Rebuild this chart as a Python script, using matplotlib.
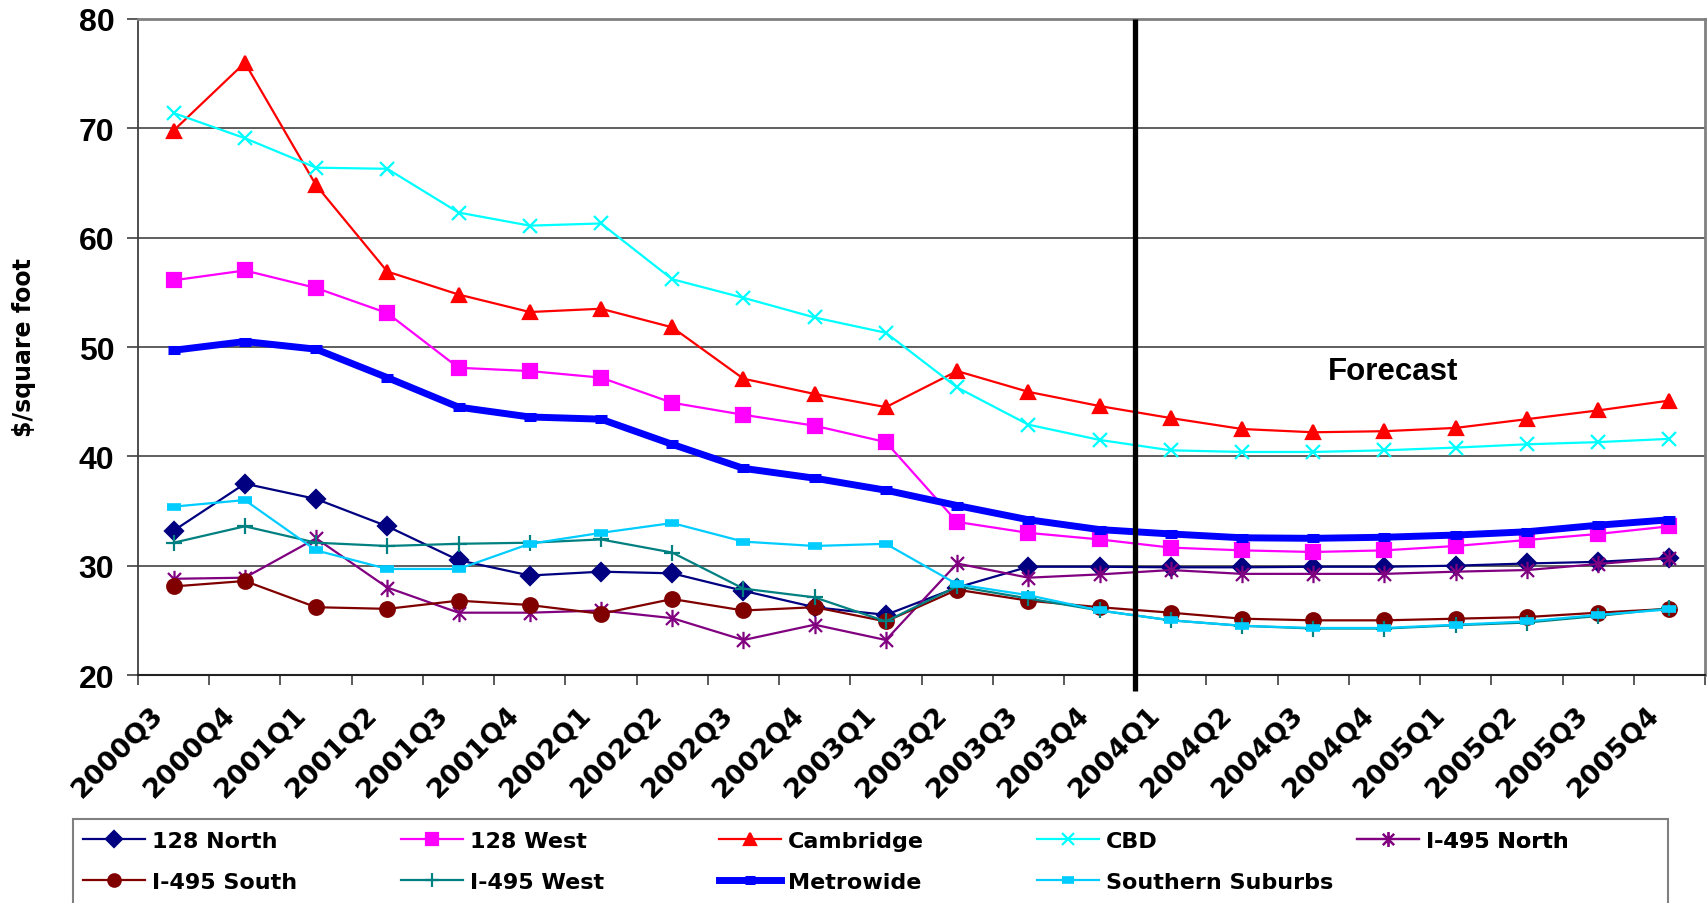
import matplotlib
matplotlib.use("Agg")
import matplotlib.pyplot as plt
from matplotlib.path import Path
from matplotlib.patches import Rectangle
from matplotlib.transforms import ScaledTranslation

quarters = ["2000Q3", "2000Q4", "2001Q1", "2001Q2", "2001Q3", "2001Q4",
            "2002Q1", "2002Q2", "2002Q3", "2002Q4", "2003Q1", "2003Q2",
            "2003Q3", "2003Q4", "2004Q1", "2004Q2", "2004Q3", "2004Q4",
            "2005Q1", "2005Q2", "2005Q3", "2005Q4"]

north_128 = [33.2, 37.5, 36.1, 33.6, 30.5, 29.1, 29.45, 29.3, 27.7, 26.2, 25.5,
             28.0, 29.9, 29.9, 29.85, 29.85, 29.9, 29.9, 30.0, 30.2, 30.35, 30.7]
west_128 = [56.1, 57.0, 55.4, 53.1, 48.1, 47.8, 47.2, 44.9, 43.8, 42.8, 41.3,
            34.0, 33.0, 32.4, 31.65, 31.4, 31.25, 31.4, 31.8, 32.35, 32.9, 33.6]
cambridge = [69.8, 76.0, 64.8, 56.9, 54.8, 53.2, 53.5, 51.8, 47.1, 45.7, 44.5,
             47.8, 45.9, 44.6, 43.5, 42.5, 42.2, 42.3, 42.6, 43.4, 44.2, 45.1]
cbd = [71.4, 69.1, 66.4, 66.3, 62.3, 61.1, 61.3, 56.2, 54.5, 52.7, 51.3,
       46.3, 42.9, 41.5, 40.55, 40.4, 40.4, 40.55, 40.8, 41.1, 41.3, 41.6]
north_495 = [28.8, 28.9, 32.5, 28.0, 25.7, 25.7, 25.9, 25.2, 23.2, 24.6, 23.2,
             30.2, 28.9, 29.2, 29.6, 29.25, 29.25, 29.25, 29.45, 29.6, 30.15, 30.7]
south_495 = [28.1, 28.6, 26.2, 26.05, 26.8, 26.4, 25.6, 26.95, 25.9, 26.2, 24.9,
             27.8, 26.8, 26.2, 25.7, 25.15, 25.0, 25.0, 25.15, 25.3, 25.7, 26.05]
west_495 = [32.1, 33.6, 32.1, 31.8, 32.0, 32.1, 32.4, 31.2, 27.9, 27.1, 24.9,
            28.1, 27.0, 25.9, 25.0, 24.5, 24.25, 24.25, 24.55, 24.8, 25.4, 26.1]
metrowide = [49.7, 50.5, 49.8, 47.2, 44.5, 43.6, 43.4, 41.1, 38.9, 38.0, 36.9,
             35.5, 34.2, 33.3, 32.9, 32.55, 32.5, 32.6, 32.8, 33.1, 33.7, 34.2]
southern = [35.4, 36.0, 31.4, 29.7, 29.7, 32.0, 33.0, 33.9, 32.2, 31.8, 32.0,
            28.3, 27.3, 25.9, 25.0, 24.5, 24.3, 24.3, 24.6, 24.9, 25.5, 26.0]

forecast_start = 13.5  # between 2003Q4 and 2004Q1

asterisk = Path([(0, -1), (0, 1), (-0.75, -0.75), (0.75, 0.75), (-0.75, 0.75), (0.75, -0.75)],
                [Path.MOVETO, Path.LINETO] * 3)

# label, data, color, marker, markersize, linewidth
series = [
    ("128 North", north_128, "#000080", "D", 9, 1.6),
    ("128 West", west_128, "#FF00FF", "s", 10, 1.6),
    ("Cambridge", cambridge, "#FF0000", "^", 10.5, 1.6),
    ("CBD", cbd, "#00FFFF", "x", 9.5, 1.6),
    ("I-495 North", north_495, "#800080", asterisk, 12.5, 1.6),
    ("I-495 South", south_495, "#800000", "o", 10.5, 1.6),
    ("I-495 West", west_495, "#008080", "+", 12, 1.6),
    ("Metrowide", metrowide, "#0000FF", "_", 9, 5.0),
    ("Southern Suburbs", southern, "#00CCFF", "_", 10, 1.6),
]

fig = plt.figure(figsize=(17.07, 9.04), dpi=100)
ax = fig.add_axes([138 / 1707, 1 - 676 / 904, 1567 / 1707, 656 / 904])

x = list(range(len(quarters)))
handles = {}
for label, vals, color, marker, ms, lw in series:
    mew = 1.6
    if marker == "_":
        mew = 6.5 if label == "Metrowide" else 5.5
    (h,) = ax.plot(x, vals, color=color, lw=lw, marker=marker, ms=ms,
                   mew=mew, mec=color, mfc=color, label=label,
                   solid_joinstyle="round")
    handles[label] = h

ax.set_xlim(-0.5, len(quarters) - 0.5)
ax.set_ylim(20, 80)
ax.set_yticks(range(20, 81, 10))
ax.set_yticklabels([str(v) for v in range(20, 81, 10)],
                   fontfamily="Liberation Sans", fontweight="bold", fontsize=23)
ax.tick_params(axis="y", direction="out", length=8, width=1.2, pad=9, color="#404040")

ax.set_xticks(x)
ax.set_xticklabels(quarters, rotation=45, ha="right", va="center",
                   rotation_mode="anchor", fontfamily="DejaVu Sans",
                   fontweight="bold", fontsize=19.5)
ax.tick_params(axis="x", which="major", length=0, pad=25)
ax.set_xticks([i - 0.5 for i in range(len(quarters) + 1)], minor=True)
ax.tick_params(axis="x", which="minor", direction="out", length=7, width=1.2, color="#404040")
shift = ScaledTranslation(-14 / 100, 0, fig.dpi_scale_trans)
for lbl in ax.get_xticklabels():
    lbl.set_transform(lbl.get_transform() + shift)

ax.yaxis.grid(True, color="#333333", lw=1.1)
ax.set_axisbelow(True)
ax.spines["left"].set_color("#404040")
ax.spines["left"].set_linewidth(1.3)
ax.spines["bottom"].set_color("#222222")
ax.spines["bottom"].set_linewidth(1.5)
for side in ("top", "right"):
    ax.spines[side].set_color("#808080")
    ax.spines[side].set_linewidth(2)

ax.set_ylabel("$/square foot", fontfamily="DejaVu Sans", fontweight="bold", fontsize=17)
ax.yaxis.set_label_coords(-0.065, 0.5)

ax.plot([forecast_start, forecast_start], [80, 18.5], color="black", lw=3.8,
        clip_on=False, zorder=5, solid_capstyle="butt")
ax.text(17.12, 47.8, "Forecast", ha="center", va="center",
        fontfamily="Liberation Sans", fontweight="bold", fontsize=22.5)

# legend: five evenly spaced columns inside one box
columns = [["128 North", "I-495 South"], ["128 West", "I-495 West"],
           ["Cambridge", "Metrowide"], ["CBD", "Southern Suburbs"], ["I-495 North"]]
col_x = [83, 401, 719, 1037, 1357]
for cx, names in zip(col_x, columns):
    leg = ax.legend([handles[n] for n in names], names, loc="upper left",
                    bbox_to_anchor=(cx / 1707, 1 - 832 / 904),
                    bbox_transform=fig.transFigure, frameon=False,
                    borderpad=0, borderaxespad=0, handlelength=2.8,
                    handletextpad=0.3, labelspacing=0.95, markerscale=0.85,
                    prop={"family": "DejaVu Sans", "weight": "bold", "size": 16})
    ax.add_artist(leg)

fig.patches.append(Rectangle((73 / 1707, -0.05), (1668 - 73) / 1707, 1 - 820 / 904 + 0.05,
                             transform=fig.transFigure, fill=False,
                             edgecolor="#808080", lw=1.5, figure=fig))

fig.savefig("out.png", dpi=100)
